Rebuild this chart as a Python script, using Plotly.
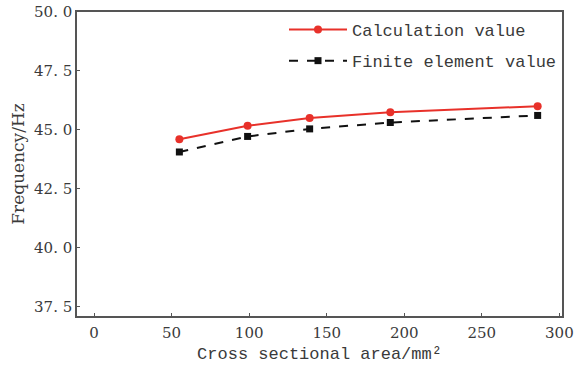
import plotly.graph_objects as go

area = [55, 99, 139, 191, 286]
calc_vals = [44.6, 45.17, 45.5, 45.75, 46.0]
fe_vals = [44.06, 44.72, 45.04, 45.31, 45.61]

x_ticks = [0, 50, 100, 150, 200, 250, 300]
y_ticks = [37.5, 40.0, 42.5, 45.0, 47.5, 50.0]
y_ticklabels = ["37. 5", "40. 0", "42. 5", "45. 0", "47. 5", "50. 0"]

serif = "DejaVu Serif, Liberation Serif, serif"
mono = "Liberation Mono, DejaVu Sans Mono, monospace"
txt = "#3a3a3a"

fig = go.Figure()
fig.add_trace(go.Scatter(
    x=area, y=calc_vals, name="Calculation value", mode="lines+markers", legendgroup="a",
    line=dict(color="#e8312a", width=2), marker=dict(symbol="circle", size=8, color="#e8312a")))
fig.add_trace(go.Scatter(
    x=area, y=fe_vals, name="Finite element value", mode="lines+markers", legendgroup="b",
    line=dict(color="#111111", width=2, dash="dash"), marker=dict(symbol="square", size=7, color="#111111")))

axis_common = dict(showline=True, linecolor="#555555", linewidth=1.5, mirror=True,
                   ticks="inside", ticklen=3, tickcolor="#555555", showgrid=False, zeroline=False,
                   automargin=False, ticklabeloverflow="allow")

fig.update_layout(
    width=582, height=368,
    margin=dict(l=77, r=20, t=12, b=52),
    plot_bgcolor="white", paper_bgcolor="white",
    showlegend=True,
    legend=dict(x=1, y=1, xanchor="right", yanchor="top", borderwidth=0,
                bgcolor="rgba(255,255,255,0)", font=dict(family=mono, size=17, color=txt),
                itemwidth=58, tracegroupgap=6),
    xaxis=dict(range=[-11, 301.7], tickvals=x_ticks,
               tickfont=dict(family=serif, size=15, color=txt), ticklabelstandoff=2,
               title=dict(text="Cross sectional area/mm²", font=dict(family=mono, size=17, color=txt), standoff=6),
               **axis_common),
    yaxis=dict(range=[37.1, 50.0], tickvals=y_ticks, ticktext=y_ticklabels,
               tickfont=dict(family=serif, size=15, color=txt),
               title=dict(text="Frequency/Hz", font=dict(family=serif, size=17, color=txt), standoff=5),
               **axis_common),
)

fig.write_html("out.html", config={"displayModeBar": False},
               post_script="document.body.style.margin='0';")
